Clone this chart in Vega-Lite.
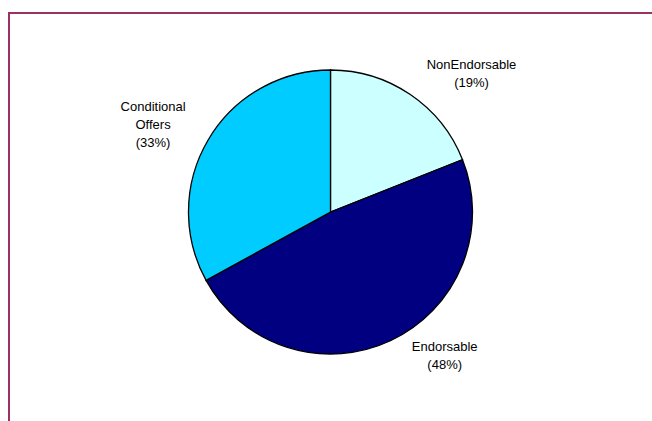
{
  "$schema": "https://vega.github.io/schema/vega-lite/v6.json",
  "width": 648,
  "height": 418,
  "autosize": {"type": "none"},
  "padding": {"left": 9, "top": 13, "right": 0, "bottom": 0},
  "background": "white",
  "view": {"stroke": "#993366", "strokeWidth": 2},
  "config": {
    "text": {"font": "Liberation Sans", "fontSize": 13, "lineBreak": "\n", "lineHeight": 18, "color": "black"}
  },
  "data": {
    "values": [
      {"category": "NonEndorsable", "share": 19, "rank": 1, "label": "NonEndorsable\n(19%)"},
      {"category": "Endorsable", "share": 48, "rank": 2, "label": "Endorsable\n(48%)"},
      {"category": "Conditional Offers", "share": 33, "rank": 3, "label": "Conditional\nOffers\n(33%)"}
    ]
  },
  "encoding": {
    "theta": {"field": "share", "type": "quantitative", "stack": true},
    "order": {"field": "rank", "type": "quantitative"}
  },
  "layer": [
    {
      "mark": {"type": "arc", "radius": 142, "stroke": "black", "strokeWidth": 1.3, "x": {"expr": "width/2 - 2.5"}, "y": {"expr": "height/2 - 10"}},
      "encoding": {
        "color": {
          "field": "category", "type": "nominal", "legend": null,
          "scale": {"domain": ["NonEndorsable", "Endorsable", "Conditional Offers"], "range": ["#CCFFFF", "#000080", "#00CCFF"]}
        }
      }
    },
    {
      "mark": {"type": "text", "radius": 194, "align": "center", "baseline": "middle", "dx": 32, "dy": 13, "x": {"expr": "width/2 - 2.5"}, "y": {"expr": "height/2 - 10"}},
      "encoding": {
        "text": {"condition": {"test": "datum.category === 'NonEndorsable'", "field": "label"}, "value": ""}
      }
    },
    {
      "mark": {"type": "text", "radius": 179, "align": "center", "baseline": "middle", "dx": 38, "dy": -27, "x": {"expr": "width/2 - 2.5"}, "y": {"expr": "height/2 - 10"}},
      "encoding": {
        "text": {"condition": {"test": "datum.category === 'Endorsable'", "field": "label"}, "value": ""}
      }
    },
    {
      "mark": {"type": "text", "radius": 198, "align": "center", "baseline": "middle", "dx": -7, "dy": -4, "x": {"expr": "width/2 - 2.5"}, "y": {"expr": "height/2 - 10"}},
      "encoding": {
        "text": {"condition": {"test": "datum.category === 'Conditional Offers'", "field": "label"}, "value": ""}
      }
    }
  ]
}
